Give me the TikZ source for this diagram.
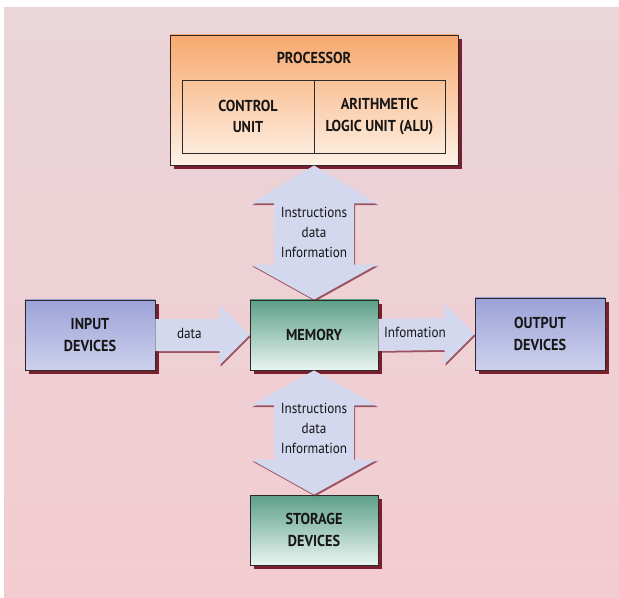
\documentclass[tikz,border=0pt]{standalone}
\usepackage{fontspec}
\setmainfont{PT Sans}[FakeStretch=0.9]
\usetikzlibrary{calc,shadows}

\definecolor{bgtop}{HTML}{EAD5D9}
\definecolor{bgbottom}{HTML}{F2CCD0}
\definecolor{boxline}{HTML}{2A2A2A}
\definecolor{shadowred}{HTML}{7A1F2E}
\definecolor{proctop}{HTML}{F7A96E}
\definecolor{procbottom}{HTML}{FEF1E6}
\definecolor{memtop}{HTML}{5C9F89}
\definecolor{membottom}{HTML}{E9F5F1}
\definecolor{iotop}{HTML}{9CA2D7}
\definecolor{iobottom}{HTML}{CED1ED}
\definecolor{arrowfill}{HTML}{D4D8EF}
\definecolor{textdark}{HTML}{161616}

\tikzset{
  box/.style={draw=boxline, line width=0.8pt, align=center, inner sep=0pt,
    text=textdark, font=\bfseries\fontsize{13.5}{18.5}\selectfont,
    drop shadow={shadow xshift=3.5pt, shadow yshift=-3.5pt, fill=shadowred, opacity=1}},
  cell/.style={draw=boxline, line width=0.8pt, align=center, inner sep=0pt,
    text=textdark, font=\bfseries\fontsize{13.5}{18.5}\selectfont,
    minimum height=2.19cm},
  bigarrow/.style={fill=arrowfill,
    drop shadow={shadow xshift=1pt, shadow yshift=-1.5pt, fill=shadowred, opacity=0.7}},
  arrowtext/.style={align=center, text=textdark, font=\fontsize{12.5}{17}\selectfont}
}

\begin{document}
\begin{tikzpicture}[x=0.03cm, y=-0.03cm]
  \useasboundingbox (0,0) rectangle (619,598);
  \shade[top color=bgtop, bottom color=bgbottom] (4,8) rectangle (619,598);

  % boxes
  \node[box, top color=proctop, bottom color=procbottom,
        minimum width=8.64cm, minimum height=3.9cm] (proc) at (314,100) {};
  \node[text=textdark, font=\bfseries\fontsize{13.5}{18.5}\selectfont] (proclabel) at (314,58) {PROCESSOR};
  \node[cell, minimum width=3.96cm] (cu) at (248,116.5) {CONTROL\\UNIT};
  \node[cell, minimum width=3.93cm] (alu) at (379.5,116.5) {ARITHMETIC\\LOGIC UNIT (ALU)};

  \node[box, top color=memtop, bottom color=membottom,
        minimum width=3.84cm, minimum height=2.1cm] (mem) at (314,335) {MEMORY};
  \node[box, top color=iotop, bottom color=iobottom,
        minimum width=3.9cm, minimum height=2.1cm] (in) at (90,335) {INPUT\\DEVICES};
  \node[box, top color=iotop, bottom color=iobottom,
        minimum width=3.9cm, minimum height=2.16cm] (out) at (540,334) {OUTPUT\\DEVICES};
  \node[box, top color=memtop, bottom color=membottom,
        minimum width=3.84cm, minimum height=2.1cm] (stor) at (314,530) {STORAGE\\DEVICES};

  % processor <-> memory
  \fill[bigarrow] (proc.south) -- ++(63,38) -- ++(-23,0)
    -- ($(mem.north)+(40,-35)$) -- ++(23,0) -- (mem.north) -- ++(-63,-35) -- ++(23,0)
    -- ($(proc.south)+(-40,38)$) -- ++(-23,0) -- cycle;
  \node[arrowtext] (uptext) at ($(proc.south)!0.5!(mem.north)$) {Instructions\\data\\Information};

  % memory <-> storage
  \fill[bigarrow] (mem.south) -- ++(63,35) -- ++(-23,0)
    -- ($(stor.north)+(40,-35)$) -- ++(23,0) -- (stor.north) -- ++(-63,-35) -- ++(23,0)
    -- ($(mem.south)+(-40,35)$) -- ++(-23,0) -- cycle;
  \node[arrowtext] (downtext) at ($(mem.south)!0.47!(stor.north)$) {Instructions\\data\\Information};

  % input -> memory
  \fill[bigarrow] ($(in.east)+(0,-16)$) -- ($(mem.west)+(-30,-16)$) -- ++(0,-14)
    -- (mem.west) -- ++(-30,30) -- ++(0,-14) -- ($(in.east)+(0,16)$) -- cycle;
  \node[arrowtext] (datatext) at ($(in.east)!0.36!(mem.west)+(0,-2)$) {data};

  % memory -> output
  \fill[bigarrow] ($(mem.east)+(0,-16)$) -- ($(out.west)+(-30,-16)$) -- ++(0,-14)
    -- (out.west) -- ++(-30,30) -- ++(0,-14) -- ($(mem.east)+(0,16)$) -- cycle;
  \node[arrowtext] (infotext) at ($(mem.east)!0.38!(out.west)+(0,-2)$) {Infomation};
\end{tikzpicture}
\end{document}
